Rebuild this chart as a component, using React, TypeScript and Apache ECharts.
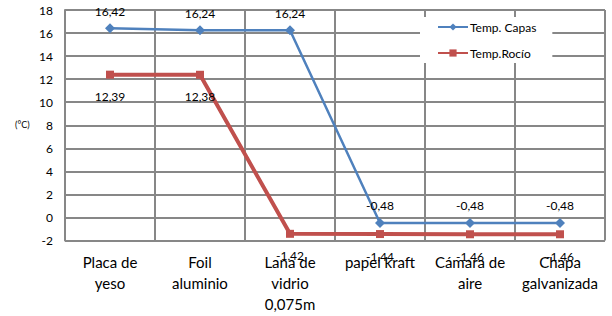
import React, { useEffect, useRef } from "react";
import * as echarts from "echarts";

const categories = [
  "Placa de\nyeso",
  "Foil\naluminio",
  "Lana de\nvidrio\n0,075m",
  "papel kraft",
  "Cámara de\naire",
  "Chapa\ngalvanizada",
];
const tempCapas = [16.42, 16.24, 16.24, -0.48, -0.48, -0.48];
const tempRocio = [12.39, 12.38, -1.42, -1.44, -1.46, -1.46];
const seriesNames = ["Temp. Capas", "Temp.Rocío"];
const yMin = -2;
const yMax = 18;
const yStep = 2;

const FONT = "Lato, 'Open Sans', sans-serif";
const GRID = "#878787";
const fmt = (v: number) => v.toFixed(2).replace(".", ",");

export default function App() {
  const ref = useRef<HTMLDivElement>(null);
  useEffect(() => {
    if (!ref.current) return;
    const chart = echarts.init(ref.current, undefined, { renderer: "svg" });
    chart.setOption({
      animation: false,
      backgroundColor: "#ffffff",
      textStyle: { fontFamily: FONT },
      grid: { left: 65, right: 7, top: 10, bottom: 75.5, containLabel: false },
      legend: {
        orient: "vertical",
        left: 420,
        top: 17,
        backgroundColor: "#ffffff",
        padding: [4, 16, 4, 17],
        itemGap: 14,
        itemWidth: 30,
        itemHeight: 9,
        textStyle: { fontFamily: FONT, fontSize: 12, color: "#000", padding: [0, 0, 0, -3] },
        data: seriesNames,
      },
      graphic: [
        {
          type: "text",
          left: 15,
          top: 120,
          style: { text: "(°C)", font: `9px ${FONT}`, fill: "#000" },
        },
      ],
      xAxis: {
        type: "category",
        data: categories,
        boundaryGap: true,
        axisLine: { show: true, lineStyle: { color: GRID, width: 2 } },
        axisTick: { show: true, length: 0, interval: 0, lineStyle: { color: GRID, width: 0 } },
        splitLine: { show: true, interval: 0, lineStyle: { color: GRID, width: 2 } },
        axisLabel: {
          interval: 0,
          fontFamily: FONT,
          fontSize: 15,
          lineHeight: 21,
          color: "#000",
          margin: 11,
        },
      },
      yAxis: {
        type: "value",
        min: yMin,
        max: yMax,
        interval: yStep,
        axisLine: { show: true, lineStyle: { color: GRID, width: 2 } },
        axisTick: { show: false },
        splitLine: { show: true, lineStyle: { color: GRID, width: 2 } },
        axisLabel: { fontFamily: FONT, fontSize: 12, color: "#000", margin: 12 },
      },
      series: [
        {
          name: seriesNames[0],
          type: "line",
          data: tempCapas,
          color: "#4F81BD",
          symbol: "diamond",
          symbolSize: 10,
          lineStyle: { width: 2.5, color: "#4F81BD" },
          itemStyle: { color: "#4F81BD" },
          label: {
            show: true,
            position: "top",
            distance: 6,
            fontFamily: FONT,
            fontSize: 12,
            color: "#000",
            formatter: (p: any) => fmt(p.value),
          },
          z: 3,
        },
        {
          name: seriesNames[1],
          type: "line",
          data: tempRocio,
          color: "#C0504D",
          symbol: "rect",
          symbolSize: 8,
          lineStyle: { width: 4, color: "#C0504D" },
          itemStyle: { color: "#C0504D" },
          label: {
            show: true,
            position: "bottom",
            distance: 12,
            fontFamily: FONT,
            fontSize: 12,
            color: "#000",
            formatter: (p: any) => fmt(p.value),
          },
          z: 2,
        },
      ],
    });
    return () => chart.dispose();
  }, []);
  return (
    <div
      ref={ref}
      style={{ position: "absolute", left: 0, top: 0, width: 612, height: 316 }}
    />
  );
}
